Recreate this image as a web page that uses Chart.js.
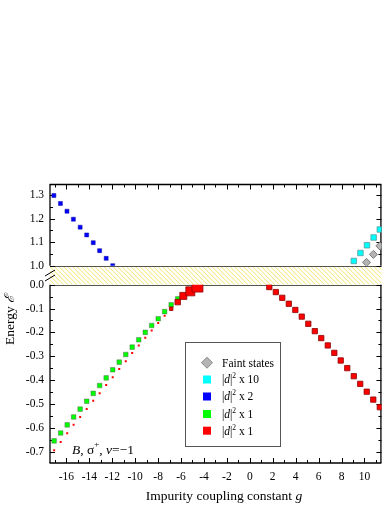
<!DOCTYPE html>
<html>
<head>
<meta charset="utf-8">
<script src="https://cdn.jsdelivr.net/npm/chart.js@4.4.1/dist/chart.umd.min.js"></script>
<style>
  html, body { margin: 0; padding: 0; background: #fff; }
  #wrap { width: 390px; height: 505px; }
</style>
</head>
<body>
<div id="wrap"><canvas id="myChart" width="390" height="505"></canvas></div>
<script>
// values: impurity coupling g and energy E per branch
const blueG = [-17.09, -16.52, -15.95, -15.39, -14.80, -14.23, -13.66, -13.10, -12.53, -11.96];
const blueE = [1.299, 1.265, 1.232, 1.198, 1.164, 1.131, 1.098, 1.064, 1.031, 1.000];

const cyanG = [9.07, 9.65, 10.22, 10.80, 11.34];
const cyanE = [1.020, 1.054, 1.087, 1.120, 1.154];

const faintG = [10.18, 10.78, 11.34];
const faintE = [1.014, 1.048, 1.084];

const greenG = [-17.07, -16.50, -15.93, -15.37, -14.80, -14.23, -13.66, -13.10, -12.53, -11.96,
  -11.39, -10.82, -10.26, -9.69, -9.12, -8.56, -7.99, -7.43, -6.86, -6.29];
const greenE = [-0.655, -0.622, -0.588, -0.555, -0.522, -0.489, -0.456, -0.423, -0.391, -0.357,
  -0.325, -0.293, -0.262, -0.231, -0.200, -0.171, -0.143, -0.113, -0.084, -0.059];

const redLowG = [-17.07, -16.50, -15.93, -15.37, -14.80, -14.23, -13.66, -13.10, -12.53, -11.96,
  -11.39, -10.82, -10.26, -9.69, -9.12, -8.56, -7.99, -7.43, -6.86, -6.29, -5.80, -5.19, -4.57];
const redLowE = [-0.695, -0.660, -0.623, -0.588, -0.555, -0.521, -0.487, -0.455, -0.421, -0.388,
  -0.354, -0.321, -0.287, -0.255, -0.223, -0.192, -0.161, -0.130, -0.101, -0.073, -0.047, -0.028, -0.008];

const redHighG = [1.70, 2.27, 2.83, 3.40, 3.97, 4.53, 5.10, 5.67, 6.23, 6.80, 7.37, 7.93, 8.50,
  9.07, 9.63, 10.20, 10.77, 11.34];
const redHighE = [-0.010, -0.031, -0.055, -0.080, -0.106, -0.134, -0.164, -0.195, -0.224, -0.255,
  -0.286, -0.318, -0.350, -0.384, -0.416, -0.449, -0.482, -0.514];

const xTicks = [-16, -14, -12, -10, -8, -6, -4, -2, 0, 2, 4, 6, 8, 10];

// marker side (px) of the red low branch, it grows near E = 0
const redLowSide = [2, 2, 2, 2, 2, 2, 2, 2, 2, 2, 2, 2, 2, 2, 2, 2, 2, 2, 3.5, 5.5, 7, 9, 11];

const serif = "'Liberation Serif', 'DejaVu Serif', serif";
const toPoints = (xs, ys) => xs.map((x, i) => ({ x: x, y: ys[i] }));
const sideToR = (s) => s / Math.SQRT2;

function line(ctx, x1, y1, x2, y2) {
  ctx.beginPath();
  ctx.moveTo(x1, y1);
  ctx.lineTo(x2, y2);
  ctx.stroke();
}

// draws text pieces one after another: [text, italic, size, dy]
function drawRich(ctx, parts, x, y) {
  let cx = x;
  parts.forEach((p) => {
    ctx.font = (p[1] ? 'italic ' : '') + p[2] + 'px ' + serif;
    ctx.fillText(p[0], cx, y + (p[3] || 0));
    cx += ctx.measureText(p[0]).width;
  });
  return cx - x;
}
function richWidth(ctx, parts) {
  let w = 0;
  parts.forEach((p) => {
    ctx.font = (p[1] ? 'italic ' : '') + p[2] + 'px ' + serif;
    w += ctx.measureText(p[0]).width;
  });
  return w;
}

const framePlugin = {
  id: 'frame',
  beforeDatasetsDraw(chart) {
    const ctx = chart.ctx;
    const { left, right } = chart.chartArea;
    const x = chart.scales.x, yT = chart.scales.yTop, yG = chart.scales.yGap, yB = chart.scales.yBot;
    const bandTop = yG.top, bandBot = yG.bottom;
    ctx.save();

    // hatched break band
    ctx.save();
    ctx.beginPath();
    ctx.rect(left, bandTop, right - left, bandBot - bandTop);
    ctx.clip();
    ctx.strokeStyle = '#f2e46a';
    ctx.lineWidth = 1;
    const h = bandBot - bandTop;
    for (let k = -h; k < right - left + h; k += 4.5) {
      line(ctx, left + k, bandTop, left + k + h, bandBot);
    }
    ctx.restore();

    // panel joins
    ctx.strokeStyle = '#555';
    ctx.lineWidth = 1;
    line(ctx, left, Math.round(bandTop) + 0.5, right, Math.round(bandTop) + 0.5);
    line(ctx, left, Math.round(bandBot) + 0.5, right, Math.round(bandBot) + 0.5);

    // outer axes
    ctx.strokeStyle = '#000';
    ctx.lineWidth = 1.3;
    const tTop = yT.top + 0.5, bBot = yB.bottom;
    line(ctx, left - 0.5, tTop, right, tTop);
    line(ctx, left, tTop, left, bandTop);
    line(ctx, right - 0.5, tTop, right - 0.5, bandTop);
    line(ctx, left - 0.5, bBot, right, bBot);
    line(ctx, left, bandBot, left, bBot);
    line(ctx, right - 0.5, bandBot, right - 0.5, bBot);

    // break marks on the left axis
    ctx.lineWidth = 1;
    line(ctx, 45, 276, 55, 270);
    line(ctx, 45, 281, 55, 275);

    // inward ticks
    ctx.lineWidth = 1;
    for (let v = -17; v <= 11; v++) {
      const px = Math.round(x.getPixelForValue(v)) + 0.5;
      const len = v % 2 === 0 ? 5 : 3;
      line(ctx, px, bBot, px, bBot - len);
      line(ctx, px, tTop, px, tTop + len);
    }
    for (let k = 0; k <= 7; k++) {
      const v = 1.0 + k * 0.05;
      if (v > yT.max) break;
      const py = Math.round(yT.getPixelForValue(v)) + 0.5;
      const len = k % 2 === 0 ? 5 : 3;
      line(ctx, left, py, left + len, py);
      line(ctx, right, py, right - len, py);
    }
    for (let k = 0; k <= 15; k++) {
      const v = -k * 0.05;
      if (v < yB.min) break;
      const py = Math.round(yB.getPixelForValue(v)) + 0.5;
      const len = k % 2 === 0 ? 5 : 3;
      line(ctx, left, py, left + len, py);
      line(ctx, right, py, right - len, py);
    }

    // axis titles
    ctx.fillStyle = '#000';
    ctx.textBaseline = 'alphabetic';
    ctx.textAlign = 'left';
    const xt = [['Impurity coupling constant ', false, 13.5], ['g', true, 13.5]];
    drawRich(ctx, xt, 224 - richWidth(ctx, xt) / 2, 500);

    const yt = [['Energy ', false, 13.5], ['\u2130', true, 13.5]];
    ctx.save();
    ctx.translate(14, 320);
    ctx.rotate(-Math.PI / 2);
    drawRich(ctx, yt, -richWidth(ctx, yt) / 2, 0);
    ctx.restore();

    // annotation
    drawRich(ctx, [['B', true, 13.5], [', \u03c3', false, 13.5], ['+', false, 9, -7],
      [', ', false, 13.5], ['\u03bd', true, 13.5], ['=\u22121', false, 13.5]], 72, 454);
    ctx.restore();
  },
  afterDatasetsDraw(chart) {
    const ctx = chart.ctx;
    ctx.save();
    // legend box
    ctx.fillStyle = '#fff';
    ctx.fillRect(185.5, 342.5, 95, 104);
    ctx.strokeStyle = '#555';
    ctx.lineWidth = 1;
    ctx.strokeRect(185.5, 342.5, 95, 104);

    const mx = 207, tx = 222;
    const rows = [362.7, 379.5, 396.5, 414, 430.7];
    // diamond
    ctx.fillStyle = '#b4b4b4';
    ctx.strokeStyle = '#888';
    ctx.beginPath();
    ctx.moveTo(mx, rows[0] - 5.5);
    ctx.lineTo(mx + 5.5, rows[0]);
    ctx.lineTo(mx, rows[0] + 5.5);
    ctx.lineTo(mx - 5.5, rows[0]);
    ctx.closePath();
    ctx.fill();
    ctx.stroke();
    const sq = ['#00ffff', '#0000ff', '#00ff00', '#ff0000'];
    sq.forEach((c, i) => {
      ctx.fillStyle = c;
      ctx.fillRect(mx - 4, rows[i + 1] - 4, 8, 8);
    });
    ctx.fillStyle = '#000';
    ctx.textBaseline = 'alphabetic';
    drawRich(ctx, [['Faint states', false, 11.5]], tx, rows[0] + 3.8);
    const mult = [' x 10', ' x 2', ' x 1', ' x 1'];
    mult.forEach((m, i) => {
      drawRich(ctx, [['|', false, 11.5], ['d', true, 11.5], ['|', false, 11.5], ['2', false, 7.5, -5],
        [m, false, 11.5]], tx, rows[i + 1] + 3.8);
    });
    ctx.restore();
  }
};

const tickFont = { family: serif, size: 11.5 };

new Chart(document.getElementById('myChart'), {
  type: 'scatter',
  data: {
    datasets: [
      {
        label: 'faint', data: toPoints(faintG, faintE), yAxisID: 'yTop', order: 0,
        pointStyle: 'rectRot', pointRadius: 4, backgroundColor: '#b4b4b4',
        borderColor: '#7a7a7a', pointBorderWidth: 1
      },
      {
        label: 'cyan', data: toPoints(cyanG, cyanE), yAxisID: 'yTop', order: 1,
        pointStyle: 'rect', pointRadius: sideToR(5.5), backgroundColor: '#00ffff',
        borderColor: '#5c9c9c', pointBorderWidth: 0.8
      },
      {
        label: 'blue', data: toPoints(blueG, blueE), yAxisID: 'yTop', order: 2,
        pointStyle: 'rect', pointRadius: sideToR(4), backgroundColor: '#0000ff',
        borderColor: '#1010a0', pointBorderWidth: 0.5
      },
      {
        label: 'red high', data: toPoints(redHighG, redHighE), yAxisID: 'yBot', order: 3,
        pointStyle: 'rect', pointRadius: sideToR(5.3), backgroundColor: '#ff0000',
        borderColor: '#8a0000', pointBorderWidth: 0.8
      },
      {
        label: 'red low', data: toPoints(redLowG, redLowE), yAxisID: 'yBot', order: 4,
        pointStyle: 'rect',
        pointRadius: (c) => sideToR(redLowSide[c.dataIndex] || 2),
        pointBorderWidth: (c) => ((redLowSide[c.dataIndex] || 2) > 3 ? 0.8 : 0),
        backgroundColor: '#ff0000', borderColor: '#900000'
      },
      {
        label: 'green', data: toPoints(greenG, greenE), yAxisID: 'yBot', order: 5,
        pointStyle: 'rect', pointRadius: sideToR(4.6), backgroundColor: '#00ff00',
        borderColor: 'rgba(90,90,90,0.55)', pointBorderWidth: 0.8
      }
    ]
  },
  options: {
    responsive: false,
    animation: false,
    events: [],
    layout: { padding: { top: 184, left: 0, right: 0, bottom: 0 } },
    plugins: { legend: { display: false }, tooltip: { enabled: false } },
    scales: {
      x: {
        type: 'linear', position: 'bottom', min: -17.43, max: 11.48,
        grid: { display: false, drawTicks: false },
        border: { display: false },
        afterBuildTicks: (s) => { s.ticks = xTicks.map((v) => ({ value: v })); },
        ticks: { padding: 7, autoSkip: false, color: '#000', font: tickFont, maxRotation: 0,
          callback: (v) => String(v) },
        afterFit: (s) => { s.height = 42; }
      },
      // stacked panels are laid out bottom-up in definition order
      yBot: {
        type: 'linear', position: 'left', stack: 'energy', stackWeight: 178,
        min: -0.748, max: 0,
        grid: { display: false, drawTicks: false },
        border: { display: false },
        ticks: { stepSize: 0.1, includeBounds: false, autoSkip: false, padding: 6, color: '#000',
          font: tickFont, callback: (v) => v.toFixed(1) },
        afterFit: (s) => { s.width = 50; }
      },
      yGap: {
        type: 'linear', position: 'left', stack: 'energy', stackWeight: 19,
        min: 0, max: 1,
        grid: { display: false, drawTicks: false },
        border: { display: false },
        ticks: { display: false },
        afterFit: (s) => { s.width = 50; }
      },
      yTop: {
        type: 'linear', position: 'left', stack: 'energy', stackWeight: 81.5,
        min: 1.0, max: 1.348,
        grid: { display: false, drawTicks: false },
        border: { display: false },
        ticks: { stepSize: 0.1, includeBounds: false, autoSkip: false, padding: 6, color: '#000',
          font: tickFont, callback: (v) => v.toFixed(1) },
        afterFit: (s) => { s.width = 50; }
      }
    }
  },
  plugins: [framePlugin]
});
</script>
</body>
</html>
